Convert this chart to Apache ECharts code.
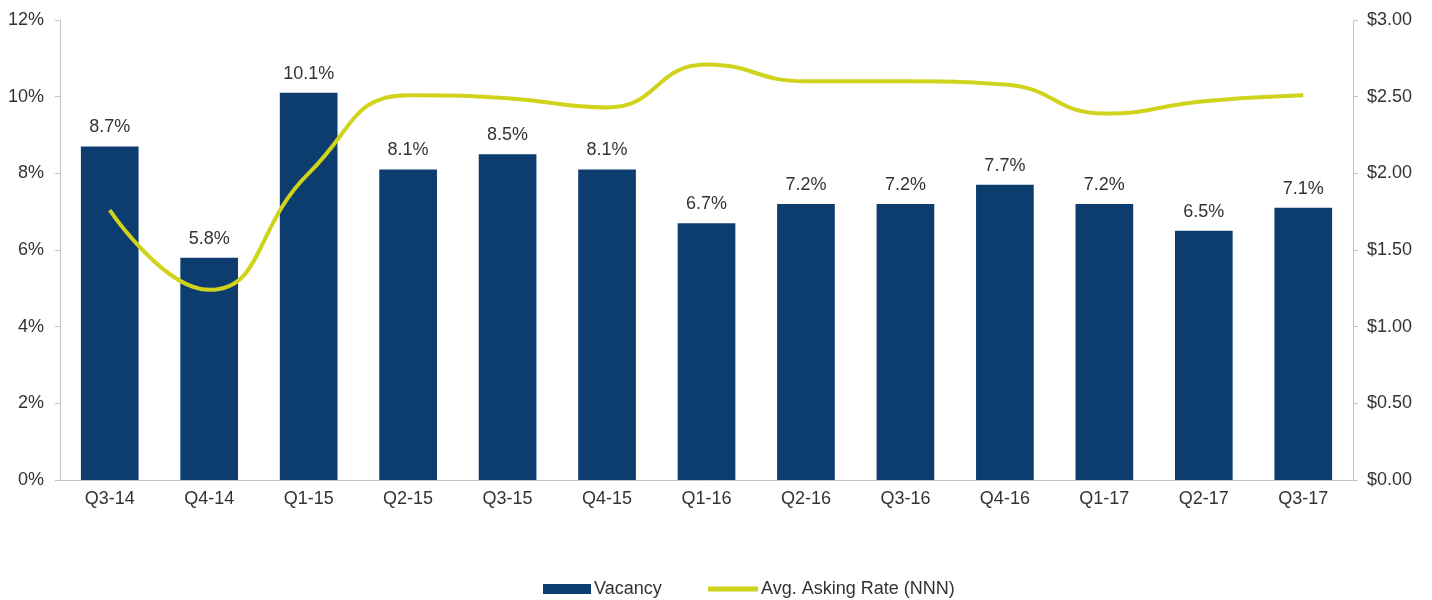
<!DOCTYPE html>
<html>
<head>
<meta charset="utf-8">
<script src="https://cdn.jsdelivr.net/npm/echarts@6/dist/echarts.min.js"></script>
<style>
  html, body { margin: 0; padding: 0; background: #fff; }
  #chart { width: 1432px; height: 600px; }
</style>
</head>
<body>
<div id="chart"></div>
<script>
// Quarterly vacancy rate (bars, left axis) and average asking rate (line, right axis)
const quarters = ['Q3-14', 'Q4-14', 'Q1-15', 'Q2-15', 'Q3-15', 'Q4-15', 'Q1-16',
                  'Q2-16', 'Q3-16', 'Q4-16', 'Q1-17', 'Q2-17', 'Q3-17'];
const vacancy = [8.7, 5.8, 10.1, 8.1, 8.5, 8.1, 6.7, 7.2, 7.2, 7.7, 7.2, 6.5, 7.1];
const askingRate = [1.76, 1.24, 2.00, 2.51, 2.49, 2.43, 2.71, 2.60, 2.60, 2.58, 2.39, 2.47, 2.51];
const vacancyTicks = [0, 2, 4, 6, 8, 10, 12];
const rateTicks = [0, 0.5, 1, 1.5, 2, 2.5, 3];

const textColor = '#333333';
const axisGrey = '#c4c4c4';
const barColor = '#0d3c6f';
const lineColor = '#cfd31b';
const font = 'Liberation Sans, Arial, sans-serif';
const fs = 18;

const legendText = { color: textColor, fontSize: fs, fontFamily: font, padding: [0, 0, 0, -2] };

const chart = echarts.init(document.getElementById('chart'));
chart.setOption({
  animation: false,
  textStyle: { fontFamily: font },
  grid: { left: 60, right: 79, top: 20, bottom: 120 },
  // bar key and line key drawn as two legends so each gets its own swatch height
  legend: [
    {
      left: 538,
      bottom: -3,
      itemWidth: 48,
      itemHeight: 10,
      textStyle: legendText,
      data: [{ name: 'Vacancy', icon: 'rect' }]
    },
    {
      left: 703,
      bottom: -3,
      itemWidth: 50,
      itemHeight: 5,
      textStyle: legendText,
      data: [{ name: 'Avg. Asking Rate (NNN)', icon: 'rect', itemStyle: { color: lineColor } }]
    }
  ],
  xAxis: {
    type: 'category',
    data: quarters,
    axisLine: { lineStyle: { color: axisGrey } },
    axisTick: { lineStyle: { color: axisGrey }, length: 5 },
    axisLabel: { color: textColor, fontSize: fs, margin: 10 }
  },
  yAxis: [
    {
      type: 'value',
      min: vacancyTicks[0],
      max: vacancyTicks[vacancyTicks.length - 1],
      interval: 2,
      splitLine: { show: false },
      axisLine: { show: true, lineStyle: { color: axisGrey } },
      axisTick: { show: true, length: 5, lineStyle: { color: axisGrey } },
      axisLabel: { color: textColor, fontSize: fs, margin: 16, formatter: v => v + '%' }
    },
    {
      type: 'value',
      min: rateTicks[0],
      max: rateTicks[rateTicks.length - 1],
      interval: 0.5,
      splitLine: { show: false },
      axisLine: { show: true, lineStyle: { color: axisGrey } },
      axisTick: { show: true, length: 5, lineStyle: { color: axisGrey } },
      axisLabel: { color: textColor, fontSize: fs, margin: 14, formatter: v => '$' + v.toFixed(2) }
    }
  ],
  series: [
    {
      name: 'Vacancy',
      type: 'bar',
      data: vacancy,
      barWidth: '58%',
      itemStyle: { color: barColor },
      label: {
        show: true,
        position: 'top',
        distance: 10,
        color: textColor,
        fontSize: fs,
        formatter: p => p.value.toFixed(1) + '%'
      }
    },
    {
      name: 'Avg. Asking Rate (NNN)',
      type: 'line',
      yAxisIndex: 1,
      data: askingRate,
      smooth: 0.5,
      symbol: 'none',
      lineStyle: { color: lineColor, width: 4 },
      itemStyle: { color: lineColor }
    }
  ]
});
</script>
</body>
</html>
